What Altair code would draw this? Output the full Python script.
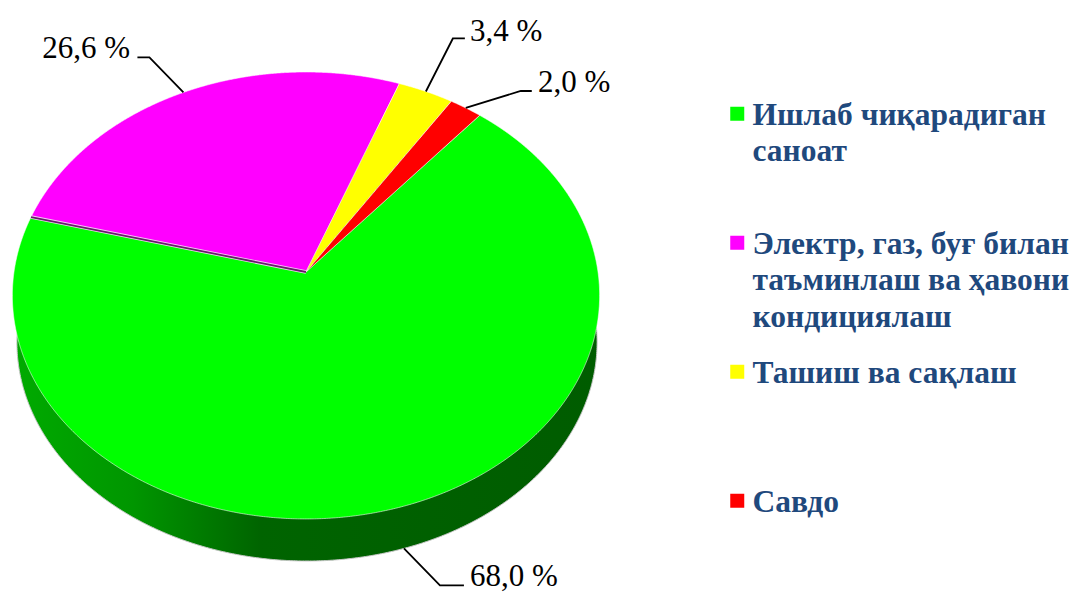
import numpy as np
import pandas as pd
import altair as alt

categories = ["Ишлаб чиқарадиган|саноат",
              "Электр, газ, буғ билан|таъминлаш ва ҳавони|кондициялаш",
              "Ташиш ва сақлаш",
              "Савдо"]
values = [68.0, 26.6, 3.4, 2.0]
colors = ["#00FF00", "#FF00FF", "#FFFF00", "#FF0000"]
value_labels = ["68,0 %", "26,6 %", "3,4 %", "2,0 %"]

# View geometry of the tilted disc
START = -50.0
K = 0.105
TOP = dict(ax=306.0, ay=272.0, A=292.0, B=221.0)
BOTTOM = dict(ax=307.0, ay=319.0, A=288.5, B=216.6)


def project(theta_deg, ax, ay, A, B):
    t = np.radians(theta_deg)
    c, s = np.cos(t), np.sin(t)
    w = 1 - K * s
    return ax + A * c / w, ay + B * s / w


def sections(px, py):
    """Upper and lower edge of a polygon at each x, as an area mark needs."""
    grid = np.unique(np.concatenate([np.round(px, 2), np.arange(np.floor(px.min()), np.ceil(px.max()) + 1, 1.0)]))
    grid = grid[(grid >= px.min()) & (grid <= px.max())]
    qx, qy = np.roll(px, -1), np.roll(py, -1)
    rows = []
    for x in grid:
        lo, hi = np.minimum(px, qx), np.maximum(px, qx)
        hit = (lo <= x) & (x <= hi) & (hi > lo)
        if not hit.any():
            continue
        ys = py[hit] + (x - px[hit]) * (qy[hit] - py[hit]) / (qx[hit] - px[hit])
        rows.append((x, ys.min(), ys.max()))
    return pd.DataFrame(rows, columns=["x", "y", "y2"])


bounds = START + 3.6 * np.concatenate([[0], np.cumsum(values)])
mids = (bounds[:-1] + bounds[1:]) / 2

frames = []
for i, cat in enumerate(categories):
    th = np.linspace(bounds[i], bounds[i + 1], max(int(values[i] * 12), 30))
    ex, ey = project(th, **TOP)
    px, py = np.concatenate([[TOP["ax"]], ex]), np.concatenate([[TOP["ay"]], ey])
    f = sections(px, py)
    f["category"] = cat
    frames.append(f)
wedges = pd.concat(frames, ignore_index=True)

sx, sy = project(np.linspace(0, 360, 720, endpoint=False), **BOTTOM)
side = sections(sx, sy)

x_scale = alt.Scale(domain=[8, 1069], nice=False, zero=False)
y_scale = alt.Scale(domain=[593, 8], nice=False, zero=False)
X = alt.X("x:Q", scale=x_scale, axis=None)
Y = alt.Y("y:Q", scale=y_scale, axis=None)

side_layer = alt.Chart(side).mark_area(
    color=alt.Gradient(gradient="linear", x1=0, x2=1, y1=0, y2=0,
                       stops=[alt.GradientStop(offset=0, color="#00AA00"),
                              alt.GradientStop(offset=0.2, color="#009600"),
                              alt.GradientStop(offset=0.42, color="#006400"),
                              alt.GradientStop(offset=1, color="#005C00")]),
    stroke="#C8C8C8", strokeWidth=1,
).encode(x=X, y=Y, y2="y2:Q")

wedge_layer = alt.Chart(wedges).mark_area(opacity=1, stroke="#FFFFFF", strokeWidth=0.8, strokeOpacity=0.7).encode(
    x=X, y=Y, y2="y2:Q", detail="category:N",
    color=alt.Color("category:N",
                    scale=alt.Scale(domain=categories, range=colors),
                    legend=alt.Legend(orient="none", legendX=713.5, legendY=90, title=None,
                                      symbolType="square", symbolSize=196, symbolStrokeWidth=0,
                                      symbolOpacity=1, rowPadding=22,
                                      labelExpr="slice(split(datum.label + '||', '|'), 0, 3)",
                                      labelFont="Liberation Serif", labelFontWeight="bold",
                                      labelFontSize=31.5, labelColor="#1F497D", labelLimit=400,
                                      labelOffset=0, labelBaseline="top")),
)

# Thin raised edge of the magenta slice against the green one
ex0, ey0 = project(bounds[1], **TOP)
edge = pd.DataFrame({"x": [float(ex0), TOP["ax"]], "y": [float(ey0), TOP["ay"]]})
edge_white = alt.Chart(edge).mark_line(color="#F2D0F2", strokeWidth=3.5).encode(x=X, y=Y)
edge_dark = alt.Chart(edge).mark_line(color="#6A1B6E", strokeWidth=1.8).encode(x=X, y=Y)

# Leader lines: anchored at the middle of each slice; offsets to elbow and tail
surfaces = [BOTTOM, TOP, TOP, TOP]
elbows = [(36, 37), (-34, -35), (27, -53), (55, -17)]
tails = [(24, 0), (-12, 0), (12, 0), (11, 0)]
rows = []
for i in range(4):
    ax, ay = project(mids[i], **surfaces[i])
    ax, ay = float(ax), float(ay)
    el, tl = elbows[i], tails[i]
    rows += [
        {"id": i, "n": 0, "x": ax, "y": ay},
        {"id": i, "n": 1, "x": ax + el[0], "y": ay + el[1]},
        {"id": i, "n": 2, "x": ax + el[0] + tl[0], "y": ay + el[1] + tl[1]},
    ]
leaders = pd.DataFrame(rows)
leader_layer = alt.Chart(leaders).mark_line(color="#000000", strokeWidth=1.8).encode(
    x=X, y=Y, detail="id:N", order="n:Q")

label_x = [470, 130, 470, 538]
label_y = [586, 58, 41, 92]
align = ["left", "right", "left", "left"]
texts = pd.DataFrame({"x": label_x, "y": label_y, "t": value_labels, "a": align})
left_text = alt.Chart(texts[texts.a == "left"]).mark_text(
    font="Liberation Serif", fontSize=31, color="#000000", align="left", baseline="alphabetic"
).encode(x=X, y=Y, text="t:N")
right_text = alt.Chart(texts[texts.a == "right"]).mark_text(
    font="Liberation Serif", fontSize=31, color="#000000", align="right", baseline="alphabetic"
).encode(x=X, y=Y, text="t:N")

chart = alt.layer(side_layer, wedge_layer, edge_white, edge_dark, leader_layer, left_text, right_text).properties(
    width=1061, height=585, padding=0, autosize=alt.AutoSizeParams(type="none"),
    background="#FFFFFF",
    config=alt.Config(view=alt.ViewConfig(stroke=None), style={"guide-label": {"lineHeight": 36.5, "dy": -14, "dx": -0.5}}),
)

chart.save("out.html", embed_options={"renderer": "svg", "actions": False})
